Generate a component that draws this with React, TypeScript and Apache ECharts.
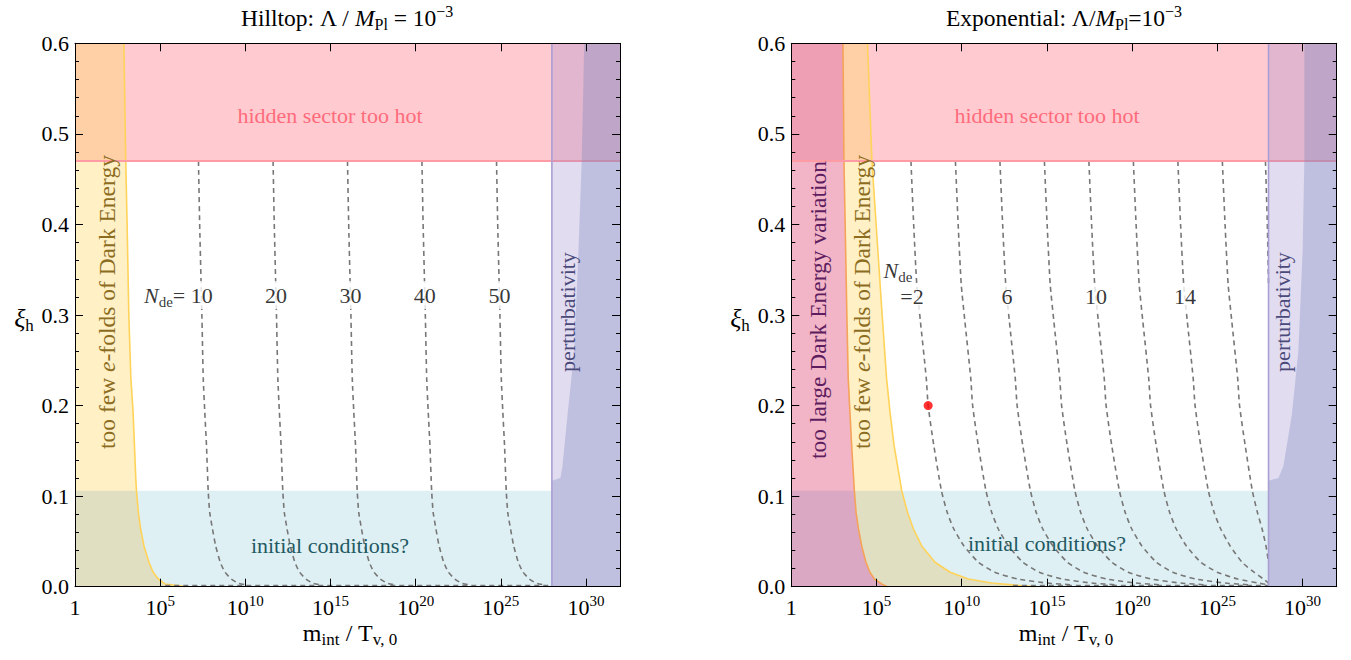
import React, { useEffect, useRef } from "react";
import * as echarts from "echarts";

const FONT = '"Liberation Serif", "Times New Roman", serif';

// ---------- data (x = log10(m_int / T_v,0), y = xi_h) ----------
const X_MAX = 32;
const xTickStep = 5;
const yTicks = [0, 0.1, 0.2, 0.3, 0.4, 0.5, 0.6];

const hiddenSectorXi = 0.47;
const initialCondXi = 0.106;
const perturbX = 28.0;

// Hilltop panel
const hillYellowXi = [0.6, 0.47, 0.4, 0.3, 0.23, 0.193, 0.156, 0.119, 0.106, 0.082, 0.064, 0.045, 0.027, 0.016, 0.0085, 0.003, 0.001, 0];
const hillYellowX = [2.87, 2.98, 3.06, 3.16, 3.28, 3.41, 3.49, 3.57, 3.61, 3.72, 3.85, 4.05, 4.34, 4.59, 4.89, 5.28, 6.17, 6.47];

const hillContourXi = [0.47, 0.4, 0.3, 0.23, 0.193, 0.156, 0.106, 0.082, 0.064, 0.045, 0.027, 0.016, 0.0085, 0.004, 0.002];
const hillN = ["10", "20", "30", "40", "50"];
const hillN10 = [7.25, 7.32, 7.45, 7.53, 7.62, 7.72, 7.82, 7.91, 8.07, 8.26, 8.53, 8.81, 9.18, 9.57, 10.06];
const hillN20 = [11.63, 11.7, 11.83, 11.91, 12.0, 12.1, 12.2, 12.29, 12.45, 12.64, 12.91, 13.19, 13.56, 13.95, 14.44];
const hillN30 = [16.0, 16.07, 16.2, 16.28, 16.37, 16.47, 16.57, 16.66, 16.82, 17.01, 17.28, 17.56, 17.93, 18.32, 18.81];
const hillN40 = [20.37, 20.44, 20.57, 20.65, 20.74, 20.84, 20.94, 21.03, 21.19, 21.38, 21.65, 21.93, 22.3, 22.69, 23.18];
const hillN50 = [24.75, 24.82, 24.95, 25.03, 25.12, 25.22, 25.32, 25.41, 25.57, 25.76, 26.03, 26.31, 26.68, 27.07, 27.56];
const hillFloorX = [5.3, 28.0];
const hillFloorXi = 0.0012;

const hillDarkXi = [0.6, 0.47, 0.37, 0.26, 0.19, 0.133, 0.12, 0.117];
const hillDarkX = [29.9, 29.75, 29.56, 29.31, 28.92, 28.62, 28.5, 28.0];

// Exponential panel
const expMagentaXi = [0.6, 0.47, 0.3, 0.23, 0.193, 0.156, 0.106, 0.082, 0.064, 0.045, 0.027, 0.016, 0.0085, 0.003, 0];
const expMagentaX = [3.03, 3.09, 3.26, 3.34, 3.44, 3.54, 3.7, 3.8, 3.94, 4.13, 4.38, 4.61, 4.88, 5.3, 5.63];
const expYellowXi = [0.6, 0.47, 0.3, 0.23, 0.193, 0.156, 0.106, 0.082, 0.064, 0.045, 0.027, 0.016, 0.0085, 0.004, 0.0015, 0];
const expYellowX = [4.47, 4.73, 5.33, 5.59, 5.79, 6.03, 6.48, 6.82, 7.16, 7.65, 8.43, 9.32, 10.39, 11.76, 13.3, 14.31];

const expContourXi = [0.47, 0.4, 0.334, 0.294, 0.23, 0.2, 0.156, 0.106, 0.082, 0.064, 0.045, 0.027, 0.016, 0.0085, 0.004, 0.002];
const expN2 = [7.02, 7.18, 7.36, 7.57, 7.92, 8.03, 8.36, 8.81, 9.15, 9.53, 10.13, 10.98, 11.94, 13.3, 15.02, 16.54];
const expN4 = [9.63, 9.79, 9.97, 10.18, 10.53, 10.64, 10.97, 11.42, 11.76, 12.14, 12.74, 13.59, 14.55, 15.91, 17.63, 19.15];
const expN6 = [12.24, 12.4, 12.58, 12.79, 13.14, 13.25, 13.58, 14.03, 14.37, 14.75, 15.35, 16.2, 17.16, 18.52, 20.24, 21.76];
const expN8 = [14.85, 15.01, 15.19, 15.4, 15.75, 15.86, 16.19, 16.64, 16.98, 17.36, 17.96, 18.81, 19.77, 21.13, 22.85, 24.37];
const expN10 = [17.46, 17.62, 17.8, 18.01, 18.36, 18.47, 18.8, 19.25, 19.59, 19.97, 20.57, 21.42, 22.38, 23.74, 25.46, 26.98];
const expN12 = [20.07, 20.23, 20.41, 20.62, 20.97, 21.08, 21.41, 21.86, 22.2, 22.58, 23.18, 24.03, 24.99, 26.2, 27.4, 28.0];
const expN14 = [22.68, 22.84, 23.02, 23.23, 23.58, 23.69, 24.02, 24.47, 24.81, 25.19, 25.75, 26.45, 27.15, 27.7, 28.0];
const expN16 = [25.29, 25.45, 25.63, 25.84, 26.19, 26.3, 26.63, 27.05, 27.35, 27.62, 27.85, 28.0];
const expN18 = [27.82, 27.93, 28.0];
const expLabelled = [
  { curve: 0, text: "2" },
  { curve: 2, text: "6" },
  { curve: 4, text: "10" },
  { curve: 6, text: "14" },
];
const expFloorX = [13.0, 28.0];
const expFloorXi = 0.0012;
const expDarkXi = [0.6, 0.47, 0.37, 0.26, 0.19, 0.133, 0.12, 0.117];
const expDarkX = [30.1, 30.1, 30.0, 29.75, 29.37, 28.87, 28.58, 28.0];

const benchmarkPoint = [8.03, 0.2];

// ---------- colours ----------
const C = {
  cyan: "#dff0f4",
  pink: "#ffcbd0",
  yellow: "#fff0c6",
  olive: "#e1dfc1",
  peach: "#ffcfa6",
  magenta: "#f2b4c7",
  mauve: "#dba8c4",
  magentaTop: "#ee9fb4",
  lavender: "rgba(150,130,200,0.28)",
  dark: "rgba(110,130,185,0.30)",
  pinkLine: "#ff9ba4",
  yellowLine: "#ffd35a",
  orangeLine: "#f5a35a",
  purpleLine: "#a99fd2",
  contour: "#777777",
};

// ---------- helpers ----------
const zip = (xs: number[], ys: number[]) => xs.map((x, i) => [x, ys[i]]);

function leftRegion(xs: number[], xis: number[], lo: number, hi: number) {
  const pts: number[][] = [[0, hi]];
  xs.forEach((x, i) => {
    if (xis[i] >= lo - 1e-9 && xis[i] <= hi + 1e-9) pts.push([x, xis[i]]);
  });
  pts.push([0, lo]);
  return pts;
}

function interpX(xs: number[], xis: number[], xi: number) {
  for (let i = 0; i < xs.length - 1; i++) {
    const a = xis[i], b = xis[i + 1];
    if ((xi <= a && xi >= b) || (xi >= a && xi <= b)) {
      const t = (xi - a) / (b - a);
      return xs[i] + t * (xs[i + 1] - xs[i]);
    }
  }
  return xs[0];
}

const mkRich = (size: number, sub: number, color = "#000") => ({
  n: { fontFamily: FONT, fontSize: size, lineHeight: size + 6, color },
  i: { fontFamily: FONT, fontSize: size, lineHeight: size + 6, fontStyle: "italic", color },
  s: { fontFamily: FONT, fontSize: sub, lineHeight: sub, verticalAlign: "bottom", color },
  p: { fontFamily: FONT, fontSize: sub, lineHeight: sub, verticalAlign: "top", color },
});
const richBase = mkRich(22, 15);

function poly(ax: number, pts: number[][], fill: string, z: number) {
  return {
    type: "custom",
    xAxisIndex: ax,
    yAxisIndex: ax,
    z,
    silent: true,
    clip: true,
    data: [[0, 0]],
    renderItem: (_p: any, api: any) => ({
      type: "polygon",
      shape: { points: pts.map((p) => api.coord(p)) },
      style: { fill, stroke: "none" },
    }),
  };
}

function line(ax: number, pts: number[][], color: string, width: number, z: number, dashed = false, smooth: number | boolean = false) {
  return {
    type: "line",
    xAxisIndex: ax,
    yAxisIndex: ax,
    z,
    silent: true,
    symbol: "none",
    smooth,
    data: pts,
    lineStyle: { color, width, type: dashed ? [5, 4] : "solid" },
  };
}

function axesFor(gi: number) {
  const tickStyle = { color: "#000", width: 1 };
  const xLab = {
    show: true,
    margin: 7,
    formatter: (v: number) => {
      if (v > 30.5) return "";
      if (v === 0) return "{b|1}";
      return `{b|10}{sup|${Math.round(v)}}`;
    },
    rich: {
      b: { fontFamily: FONT, fontSize: 22, lineHeight: 28, color: "#000" },
      sup: { fontFamily: FONT, fontSize: 15, lineHeight: 15, verticalAlign: "top", color: "#000" },
    },
  };
  const xa = (position: string, labels: boolean) => ({
    type: "value",
    gridIndex: gi,
    position,
    min: 0,
    max: X_MAX,
    interval: xTickStep,
    z: 20,
    axisLine: { show: true, onZero: false, lineStyle: tickStyle },
    axisTick: { show: true, inside: true, length: 8, lineStyle: tickStyle },
    axisLabel: labels ? xLab : { show: false },
    splitLine: { show: false },
  });
  const ya = (position: string, labels: boolean) => ({
    type: "value",
    gridIndex: gi,
    position,
    min: yTicks[0],
    max: yTicks[yTicks.length - 1],
    interval: 0.1,
    z: 20,
    axisLine: { show: true, onZero: false, lineStyle: tickStyle },
    axisTick: { show: true, inside: true, length: 8, lineStyle: tickStyle },
    minorTick: { show: true, splitNumber: 5, length: 4, lineStyle: tickStyle },
    axisLabel: labels
      ? { show: true, margin: 6, fontFamily: FONT, fontSize: 22, color: "#000", formatter: (v: number) => v.toFixed(1) }
      : { show: false },
    splitLine: { show: false },
    minorSplitLine: { show: false },
  });
  return { x: [xa("bottom", true), xa("top", false)], y: [ya("left", true), ya("right", false)] };
}

function buildOption() {
  const series: any[] = [];
  const H = 0; // axis index for hilltop
  const E = 2; // axis index for exponential

  // ---- Hilltop ----
  series.push(poly(H, [[0, 0], [perturbX, 0], [perturbX, initialCondXi], [0, initialCondXi]], C.cyan, 1));
  series.push(poly(H, [[0, hiddenSectorXi], [X_MAX, hiddenSectorXi], [X_MAX, 0.6], [0, 0.6]], C.pink, 1));
  series.push(poly(H, leftRegion(hillYellowX, hillYellowXi, 0, 0.6), C.yellow, 2));
  series.push(poly(H, leftRegion(hillYellowX, hillYellowXi, 0, initialCondXi), C.olive, 3));
  series.push(poly(H, leftRegion(hillYellowX, hillYellowXi, hiddenSectorXi, 0.6), C.peach, 3));
  series.push(line(H, zip(hillYellowX, hillYellowXi), C.yellowLine, 1.6, 6));
  const hillCurves = [hillN10, hillN20, hillN30, hillN40, hillN50];
  hillCurves.forEach((c) => series.push(line(H, zip(c, hillContourXi), C.contour, 1.6, 7, true, 0.2)));
  series.push(line(H, hillFloorX.map((x) => [x, hillFloorXi]), C.contour, 1.6, 7, true));
  series.push(line(H, [[0, hiddenSectorXi], [X_MAX, hiddenSectorXi]], C.pinkLine, 2, 8));
  series.push(poly(H, [[perturbX, 0], [X_MAX, 0], [X_MAX, 0.6], [perturbX, 0.6]], C.lavender, 9));
  series.push(poly(H, [[X_MAX, 0], [X_MAX, 0.6], ...zip(hillDarkX, hillDarkXi), [perturbX, 0]], C.dark, 9));
  series.push(line(H, [[perturbX, 0], [perturbX, 0.6]], C.purpleLine, 1.6, 10));

  // Hilltop contour labels
  const hillLabXi = 0.322;
  series.push({
    type: "scatter",
    xAxisIndex: H,
    yAxisIndex: H,
    z: 12,
    silent: true,
    symbolSize: 1,
    itemStyle: { color: "rgba(0,0,0,0)" },
    data: hillCurves.map((c, k) => ({
      value: [interpX(c, hillContourXi, hillLabXi), hillLabXi],
      name: hillN[k],
    })),
    label: {
      show: true,
      position: "inside",
      formatter: (p: any) => (p.dataIndex === 0 ? `{i|N}{s|de}{n|= ${p.name}}` : `{n|${p.name}}`),
      rich: richBase,
      backgroundColor: "#fff",
      padding: [0, 2, 0, 2],
    },
    labelLayout: (p: any) => (p.dataIndex === 0 ? { dx: -23 } : {}),
  });

  // ---- Exponential ----
  series.push(poly(E, [[0, 0], [perturbX, 0], [perturbX, initialCondXi], [0, initialCondXi]], C.cyan, 1));
  series.push(poly(E, [[0, hiddenSectorXi], [X_MAX, hiddenSectorXi], [X_MAX, 0.6], [0, 0.6]], C.pink, 1));
  series.push(poly(E, leftRegion(expYellowX, expYellowXi, 0, 0.6), C.yellow, 2));
  series.push(poly(E, leftRegion(expYellowX, expYellowXi, 0, initialCondXi), C.olive, 3));
  series.push(poly(E, leftRegion(expYellowX, expYellowXi, hiddenSectorXi, 0.6), C.peach, 3));
  series.push(poly(E, leftRegion(expMagentaX, expMagentaXi, 0, 0.6), C.magenta, 4));
  series.push(poly(E, leftRegion(expMagentaX, expMagentaXi, 0, initialCondXi), C.mauve, 5));
  series.push(poly(E, leftRegion(expMagentaX, expMagentaXi, hiddenSectorXi, 0.6), C.magentaTop, 5));
  series.push(line(E, zip(expYellowX, expYellowXi), C.yellowLine, 1.6, 6));
  series.push(line(E, zip(expMagentaX, expMagentaXi), C.orangeLine, 1.6, 6));
  const expCurves = [expN2, expN4, expN6, expN8, expN10, expN12, expN14, expN16, expN18];
  expCurves.forEach((c) => series.push(line(E, zip(c, expContourXi.slice(0, c.length)), C.contour, 1.6, 7, true, 0.2)));
  series.push(line(E, expFloorX.map((x) => [x, expFloorXi]), C.contour, 1.6, 7, true));
  series.push(line(E, [[0, hiddenSectorXi], [X_MAX, hiddenSectorXi]], C.pinkLine, 2, 8));
  series.push(poly(E, [[perturbX, 0], [X_MAX, 0], [X_MAX, 0.6], [perturbX, 0.6]], C.lavender, 9));
  series.push(poly(E, [[X_MAX, 0], [X_MAX, 0.6], ...zip(expDarkX, expDarkXi), [perturbX, 0]], C.dark, 9));
  series.push(line(E, [[perturbX, 0], [perturbX, 0.6]], C.purpleLine, 1.6, 10));

  const expLabXi = 0.32;
  series.push({
    type: "scatter",
    xAxisIndex: E,
    yAxisIndex: E,
    z: 12,
    silent: true,
    symbolSize: 1,
    itemStyle: { color: "rgba(0,0,0,0)" },
    data: expLabelled.map((l) => ({
      value: [interpX(expCurves[l.curve], expContourXi, expLabXi), expLabXi],
      name: l.text,
    })),
    label: {
      show: true,
      position: "inside",
      formatter: (p: any) => (p.dataIndex === 0 ? `{n|=${p.name}}` : `{n|${p.name}}`),
      rich: richBase,
      backgroundColor: "#fff",
      padding: [0, 2, 0, 2],
    },
    labelLayout: (p: any) => (p.dataIndex === 0 ? { dx: -6 } : {}),
  });
  series.push({
    type: "scatter",
    xAxisIndex: E,
    yAxisIndex: E,
    z: 12,
    silent: true,
    symbolSize: 1,
    itemStyle: { color: "rgba(0,0,0,0)" },
    data: [{ value: [interpX(expN2, expContourXi, expLabXi), expLabXi] }],
    label: {
      show: true,
      position: "inside",
      offset: [-20, -26],
      formatter: () => "{i|N}{s|de}",
      rich: richBase,
      backgroundColor: "#fff",
    },
  });
  series.push({
    type: "scatter",
    xAxisIndex: E,
    yAxisIndex: E,
    z: 13,
    silent: true,
    symbolSize: 9,
    itemStyle: { color: "#ff0000" },
    data: [benchmarkPoint],
  });

  const a0 = axesFor(0);
  const a1 = axesFor(1);

  const txt = (x: number, y: number, text: string, fill: string, rotation = 0, rich?: any, size = 22) => ({
    type: "text",
    x,
    y,
    rotation,
    z: 100,
    silent: true,
    style: {
      text,
      fill,
      fontFamily: FONT,
      fontSize: size,
      align: "center",
      verticalAlign: "middle",
      textAlign: "center",
      textVerticalAlign: "middle",
      rich,
    },
  });
  const R = Math.PI / 2;
  const titleRich = mkRich(23.5, 16);
  const axisRich = mkRich(24, 17);
  const xiRich = mkRich(26, 17);
  const efoldRich = mkRich(23.5, 16, "#8c6d1f");

  const graphic = [
    txt(347, 18, "{n|Hilltop: Λ / }{i|M}{s|Pl}{n| = 10}{p|−3}", "#000", 0, titleRich),
    txt(1064, 18, "{n|Exponential: Λ/}{i|M}{s|Pl}{n|=10}{p|−3}", "#000", 0, titleRich),
    txt(350, 633, "{n|m}{s|int}{n| / T}{s|v, 0}", "#000", 0, axisRich),
    txt(1066, 633, "{n|m}{s|int}{n| / T}{s|v, 0}", "#000", 0, axisRich),
    txt(24, 318, "{i|ξ}{s|h}", "#000", 0, xiRich),
    txt(740, 318, "{i|ξ}{s|h}", "#000", 0, xiRich),
    // Hilltop region labels
    txt(330, 115, "hidden sector too hot", "#ff6b7b"),
    txt(107, 302, "{n|too few }{i|e}{n|-folds of Dark Energy}", "#8c6d1f", R, efoldRich, 23.5),
    txt(330, 545, "initial conditions?", "#1f5a63"),
    txt(567, 312, "perturbativity", "#4a4a7a", R),
    // Exponential region labels
    txt(1047, 115, "hidden sector too hot", "#ff6b7b"),
    txt(818, 310, "too large Dark Energy variation", "#5e1d5e", R, undefined, 23.5),
    txt(862, 302, "{n|too few }{i|e}{n|-folds of Dark Energy}", "#8c6d1f", R, efoldRich, 23.5),
    txt(1047, 543, "initial conditions?", "#1f5a63"),
    txt(1282, 312, "perturbativity", "#4a4a7a", R),
  ];

  return {
    animation: false,
    backgroundColor: "#fff",
    grid: [
      { left: 75, top: 43.3, width: 545, height: 543.4, containLabel: false },
      { left: 791.3, top: 43.3, width: 545.4, height: 543.4, containLabel: false },
    ],
    xAxis: [...a0.x.map((a) => ({ ...a, gridIndex: 0 })), ...a1.x.map((a) => ({ ...a, gridIndex: 1 }))],
    yAxis: [...a0.y.map((a) => ({ ...a, gridIndex: 0 })), ...a1.y.map((a) => ({ ...a, gridIndex: 1 }))],
    series,
    graphic,
  };
}

export default function App() {
  const ref = useRef<HTMLDivElement>(null);
  useEffect(() => {
    if (!ref.current) return;
    const chart = echarts.init(ref.current, undefined, { renderer: "svg" });
    chart.setOption(buildOption() as any);
    return () => chart.dispose();
  }, []);
  return (
    <div
      ref={ref}
      style={{ position: "fixed", left: 0, top: 0, width: 1351, height: 660, background: "#fff" }}
    />
  );
}
